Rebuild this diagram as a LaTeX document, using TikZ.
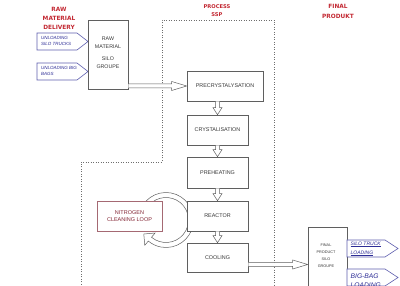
\documentclass[tikz,border=0pt]{standalone}
\usepackage{fontspec}
\setsansfont{Liberation Sans}
\newfontfamily\ttlfont{DejaVu Sans}
\usetikzlibrary{calc}
\definecolor{ttlred}{RGB}{195,40,50}
\definecolor{boxgray}{RGB}{95,95,95}
\definecolor{boxtext}{RGB}{55,55,55}
\definecolor{nitrotext}{RGB}{130,35,50}
\definecolor{nitroborder}{RGB}{165,105,115}
\definecolor{bluetext}{RGB}{45,45,150}
\definecolor{blueborder}{RGB}{95,95,175}
\definecolor{dotgray}{RGB}{110,110,110}
\tikzset{
  box/.style={draw=boxgray, fill=white, line width=0.6pt, inner sep=0pt, text=boxtext,
    font=\sffamily\fontsize{5.4}{6.5}\selectfont},
  ttl/.style={text=ttlred, align=center, inner sep=0pt},
  hollow/.style={draw=boxgray, fill=white, line width=0.5pt, line join=miter},
  pent/.style={draw=blueborder, fill=white, line width=0.6pt},
  btxt/.style={text=bluetext, align=left, inner sep=0pt, anchor=west},
  dotline/.style={draw=dotgray, line width=0.5pt, dash pattern=on 1pt off 1.5pt}
}
\newcommand\harrowto[2]{%
  \draw[hollow] ($(#1)+(0,-2)$) -- ($(#2)+(-15,-2)$) -- ($(#2)+(-15,-4.5)$) -- (#2)
    -- ($(#2)+(-15,4.5)$) -- ($(#2)+(-15,2)$) -- ($(#1)+(0,2)$);}
\newcommand\varrowto[2]{%
  \draw[hollow] ($(#1)+(-2,0)$) -- ($(#2)+(-2,-7)$) -- ($(#2)+(-4.5,-7)$) -- (#2)
    -- ($(#2)+(4.5,-7)$) -- ($(#2)+(2,-7)$) -- ($(#1)+(2,0)$);}
\begin{document}
\begin{tikzpicture}[x=1pt,y=-1pt]
\path[use as bounding box, clip] (0,0) rectangle (400,286);
\fill[white] (0,0) rectangle (400,286);

% titles
\node[ttl, font=\ttlfont\bfseries\fontsize{5.8}{9.3}\selectfont] (t1) at (59,18.5) {RAW\\MATERIAL\\DELIVERY};
\node[ttl, font=\ttlfont\bfseries\fontsize{5.2}{7.6}\selectfont] (t2) at (217,10.5) {PROCESS\\SSP};
\node[ttl, font=\ttlfont\bfseries\fontsize{5.8}{9.3}\selectfont] (t3) at (338,11.3) {FINAL\\PRODUKT};

% dotted process region
\draw[dotline] (81,295) -- (81,162) -- (162,162) -- (162,20) -- (274,20) -- (274,295);

% left pentagons
\draw[pent] (37,33) -- (77,33) -- (88,41.5) -- (77,50) -- (37,50) -- cycle;
\node[btxt, font=\sffamily\itshape\fontsize{4.5}{6}\selectfont] (ul1) at (41,40.5) {UNLOADING\\SILO TRUCKS};
\draw[pent] (37,63) -- (77,63) -- (88,71.5) -- (77,80) -- (37,80) -- cycle;
\node[btxt, font=\sffamily\itshape\fontsize{4.5}{6}\selectfont] (ul2) at (41,71.3) {UNLOADING BIG\\BAGS};

% raw material box
\node[box, minimum width=40pt, minimum height=69pt] (raw) at (108,54.5) {};
\node[text=boxtext, align=center, inner sep=0pt, font=\sffamily\fontsize{5.3}{8}\selectfont] (rawtxt) at (108,52.3) {RAW\\MATERIAL\\[4pt]SILO\\GROUPE};

% process boxes
\node[box, minimum width=76pt, minimum height=30pt] (pre) at (225,86) {PRECRYSTALYSATION};
\node[box, minimum width=61pt, minimum height=30pt] (cry) at (217.5,130) {CRYSTALISATION};
\node[box, minimum width=61pt, minimum height=31pt] (heat) at (217.5,172.5) {PREHEATING};

% nitrogen ring (drawn beneath boxes)
\begin{scope}[shift={(166,220)}]
\draw[hollow] (-170:27.5) arc[start angle=-170, end angle=130, radius=27.5]
  -- (130:33) -- (-22.2,14.0) -- (130:17) -- (130:22.5)
  arc[start angle=130, end angle=-170, radius=22.5] -- cycle;
\end{scope}

\node[box, minimum width=61pt, minimum height=30pt] (reac) at (217.5,216) {REACTOR};
\node[box, minimum width=61pt, minimum height=29pt] (cool) at (217.5,257.5) {COOLING};
\node[box, draw=nitroborder, text=nitrotext, align=center, minimum width=65pt, minimum height=30pt,
  font=\sffamily\fontsize{5.5}{7}\selectfont] (nitro) at (129.5,216) {NITROGEN\\CLEANING LOOP};

% final product box
\node[box, minimum width=39pt, minimum height=73pt] (final) at (327.5,263.5) {};
\node[text=boxtext, align=center, inner sep=0pt, font=\sffamily\fontsize{3.8}{7}\selectfont] (finaltxt) at (326,255.5) {FINAL\\PRODUCT\\SILO\\GROUPE};

% right pentagons
\draw[pent] (347,240) -- (385,240) -- (398,248.5) -- (385,257) -- (347,257) -- cycle;
\node[btxt, font=\sffamily\itshape\fontsize{5}{9}\selectfont] (l1) at (350.5,249) {\underline{SILO TRUCK}\\\underline{LOADING}};
\draw[pent] (347,269) -- (385,269) -- (398,277.5) -- (385,286) -- (347,286) -- cycle;
\node[btxt, font=\sffamily\itshape\fontsize{6.7}{9}\selectfont] (l2) at (350.5,280.5) {BIG-BAG\\LOADING};

% connectors
\coordinate (a1) at (raw.east |- pre.west);
\harrowto{a1}{pre.west}
\coordinate (a2) at (cry.north |- pre.south);
\varrowto{a2}{cry.north}
\varrowto{cry.south}{heat.north}
\varrowto{heat.south}{reac.north}
\varrowto{reac.south}{cool.north}
\coordinate (c1) at ($(cool.east)+(0,7)$);
\coordinate (c2) at (final.west |- c1);
\harrowto{c1}{c2}
\end{tikzpicture}
\end{document}
